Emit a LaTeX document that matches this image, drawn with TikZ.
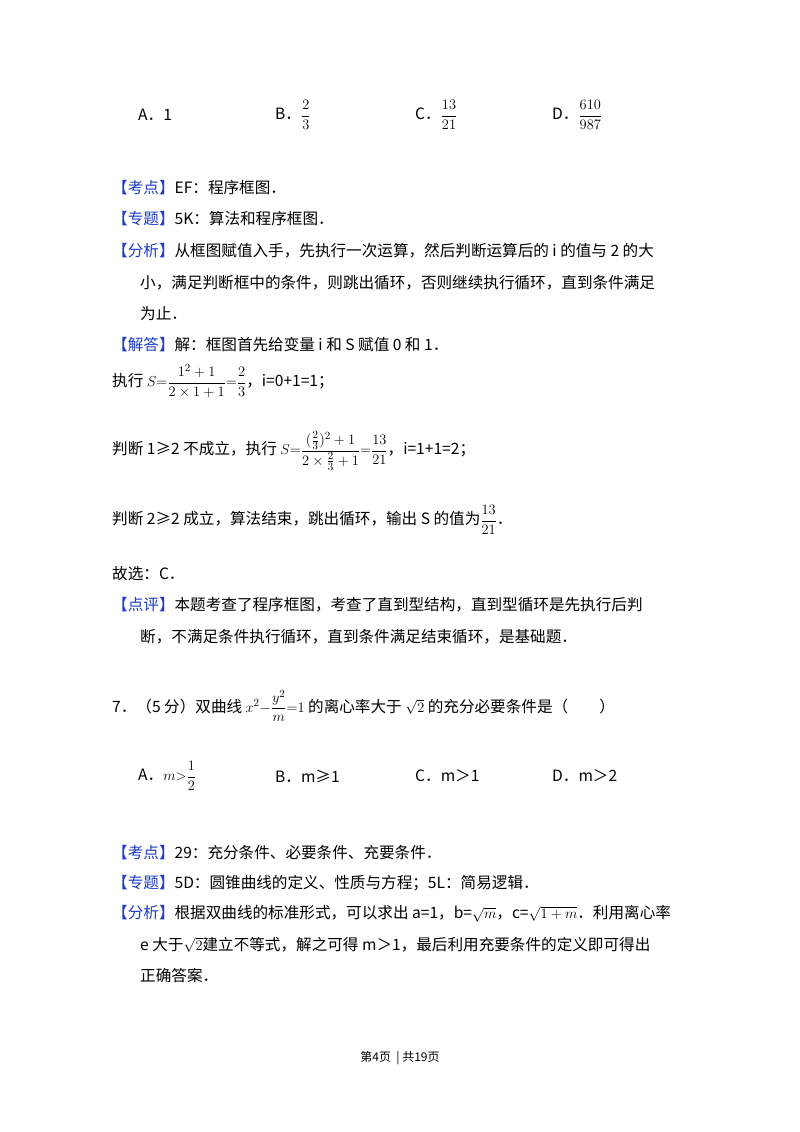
\documentclass[tikz,border=0pt]{standalone}
\usepackage{fontspec}
\setmainfont{Noto Sans CJK SC}
\definecolor{tagblue}{RGB}{30,60,200}
\newcommand{\tagb}[1]{{\color{tagblue}【#1】}}
\newcommand{\df}[2]{{\displaystyle\frac{#1}{#2}}}
\begin{document}
\begin{tikzpicture}[x=1pt,y=-1pt,
  t/.style={anchor=west,inner sep=0pt,font=\fontsize{15.6}{18}\selectfont},
  pg/.style={anchor=center,inner sep=0pt,font=\fontsize{12}{14}\selectfont}]
\useasboundingbox[fill=white] (0,0) rectangle (800,1132);
\node[t] (a1) at (138,115) {A．1};
\node[t] (b1) at (275,115) {B．$\df{2}{3}$};
\node[t] (c1) at (415,115) {C．$\df{13}{21}$};
\node[t] (d1) at (552,115) {D．$\df{610}{987}$};
\node[t] (k1) at (112,188) {\tagb{考点}EF：程序框图．};
\node[t] (z1) at (112,219) {\tagb{专题}5K：算法和程序框图．};
\node[t] (f1) at (112,251) {\tagb{分析}从框图赋值入手，先执行一次运算，然后判断运算后的 i 的值与 2 的大};
\node[t] (f2) at (140,283) {小，满足判断框中的条件，则跳出循环，否则继续执行循环，直到条件满足};
\node[t] (f3) at (140,314) {为止．};
\node[t] (j1) at (112,345) {\tagb{解答}解：框图首先给变量 i 和 S 赋值 0 和 1．};
\node[t] (e1) at (112,381) {执行 $S{=}\df{1^2+1}{2\times1+1}{=}\df{2}{3}$，i=0+1=1；};
\node[t] (e2) at (112,451) {判断 1≥2 不成立，执行 $S{=}\df{(\frac{2}{3})^2+1}{2\times\frac{2}{3}+1}{=}\df{13}{21}$，i=1+1=2；};
\node[t] (e3) at (112,520) {判断 2≥2 成立，算法结束，跳出循环，输出 S 的值为$\df{13}{21}$．};
\node[t] (g1) at (112,574) {故选：C．};
\node[t] (p1) at (112,605) {\tagb{点评}本题考查了程序框图，考查了直到型结构，直到型循环是先执行后判};
\node[t] (p2) at (140,637) {断，不满足条件执行循环，直到条件满足结束循环，是基础题．};
\node[t] (q7) at (112,706) {7．（5 分）双曲线 $x^2{-}\df{y^2}{m}{=}1$ 的离心率大于 $\sqrt{2}$ 的充分必要条件是（\qquad）};
\node[t] (a2) at (138,776) {A．$m{>}\df{1}{2}$};
\node[t] (b2) at (275,776) {B．m≥1};
\node[t] (c2) at (415,776) {C．m＞1};
\node[t] (d2) at (552,776) {D．m＞2};
\node[t] (k2) at (112,853) {\tagb{考点}29：充分条件、必要条件、充要条件．};
\node[t] (z2) at (112,883) {\tagb{专题}5D：圆锥曲线的定义、性质与方程；5L：简易逻辑．};
\node[t] (f4) at (112,914) {\tagb{分析}根据双曲线的标准形式，可以求出 a=1，b=$\sqrt{m}$，c=$\sqrt{1+m}$．利用离心率};
\node[t] (f5) at (140,945) {e 大于$\sqrt{2}$建立不等式，解之可得 m＞1，最后利用充要条件的定义即可得出};
\node[t] (f6) at (140,976) {正确答案．};
\node[pg] (pg1) at (400,1058) {第4页 \ | 共19页};
\end{tikzpicture}
\end{document}
